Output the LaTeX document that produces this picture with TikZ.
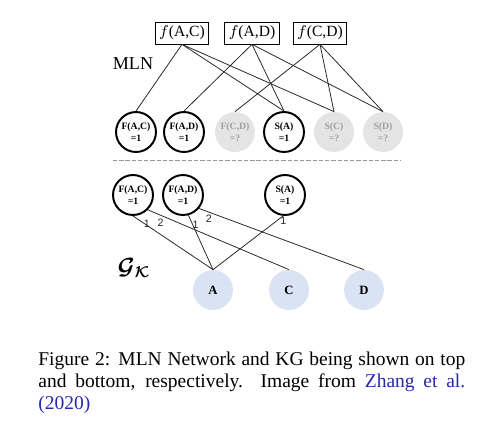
\documentclass[tikz,border=0pt]{standalone}
\usepackage{amsmath}
\usepackage{bm}
\usepackage{fontspec}
\setmainfont{Liberation Serif}
\newfontfamily\digitfont{Liberation Sans}
\usetikzlibrary{positioning}
\tikzset{>=stealth}
\definecolor{kgblue}{RGB}{218,227,243}
\definecolor{unkgray}{RGB}{228,228,228}
\definecolor{unktext}{RGB}{160,160,160}
\definecolor{citeblue}{RGB}{40,40,170}
\tikzset{
  factor/.style={draw,thin,inner sep=2pt,minimum height=10.3pt,font=\fontsize{8}{9}\selectfont},
  atom/.style={draw,circle,line width=1pt,minimum size=20.5pt,inner sep=0pt,align=center,font=\fontsize{5}{6.2}\selectfont\bfseries},
  unknown/.style={circle,fill=unkgray,text=unktext,minimum size=20.5pt,inner sep=0pt,align=center,font=\fontsize{5}{6.2}\selectfont\bfseries},
  entity/.style={circle,fill=kgblue,minimum size=20.5pt,inner sep=0pt,font=\fontsize{6.5}{7}\selectfont\bfseries},
  edgelabel/.style={inner sep=1pt,font=\digitfont\fontsize{5.5}{6}\selectfont}
}

\begin{document}
\begin{tikzpicture}[x=0.513pt,y=-0.513pt]
            \useasboundingbox (0,0) rectangle (479,431);
            % factors
            \node[factor] (fAC) at (182,33) {$f$(A,C)};
            \node[factor] (fAD) at (252,33) {$f$(A,D)};
            \node[factor] (fCD) at (320,33) {$f$(C,D)};
            \node[font=\fontsize{9.3}{10}\selectfont] (mln) at (133,64) {MLN};

            % MLN atoms
            \node[atom] (FAC) at (136,132) {F(A,C)\\=1};
            \node[atom] (FAD) at (184,132) {F(A,D)\\=1};
            \node[unknown] (FCD) at (235,132) {F(C,D)\\=?};
            \node[atom] (SA) at (284,132) {S(A)\\=1};
            \node[unknown] (SC) at (334,132) {S(C)\\=?};
            \node[unknown] (SD) at (383,132) {S(D)\\=?};

            \draw[thin,black!85] (fAC.south)--(FAC.north);
            \draw[thin,black!85] (fAC.south)--(SA.north);
            \draw[thin,black!85] (fAC.south)--(SC.north);
            \draw[thin,black!85] (fAD.south)--(FAD.north);
            \draw[thin,black!85] (fAD.south)--(SA.north);
            \draw[thin,black!85] (fAD.south)--(SD.north);
            \draw[thin,black!85] (fCD.south)--(FCD.north);
            \draw[thin,black!85] (fCD.south)--(SC.north);
            \draw[thin,black!85] (fCD.south)--(SD.north);

            % separator
            \coordinate (sepL) at (113,160);
            \coordinate (sepR) at (400,160);
            \draw[black!40,dash pattern=on 2.2pt off 1pt] (sepL)--(sepR);

            % KG side
            \node[atom] (FAC2) at (133,195) {F(A,C)\\=1};
            \node[atom] (FAD2) at (183,195) {F(A,D)\\=1};
            \node[atom] (SA2) at (285,195) {S(A)\\=1};
            \node[font=\large] (gk) at (134,268) {$\bm{\mathcal{G}_{\mathcal{K}}}$};

            \node[entity] (A) at (213,290) {A};
            \node[entity] (C) at (289,290) {C};
            \node[entity] (D) at (364,290) {D};

            \draw[thin,black!85] (FAC2.-90)--node[edgelabel,pos=0.15,xshift=1pt]{1}(A.north);
            \draw[thin,black!85] (FAC2.-45)--node[edgelabel,pos=0.09,below=0.5pt]{2}(C.north);
            \draw[thin,black!85] (FAD2.-75)--node[edgelabel,pos=0.17,xshift=1.5pt]{1}(A.north);
            \draw[thin,black!85] (FAD2.-40)--node[edgelabel,pos=0.06,below=0.5pt]{2}(D.north);
            \draw[thin,black!85] (SA2.-95)--node[edgelabel,pos=0.1,right=1pt]{1}(A.north);

            % caption
            \node[anchor=north west,inner sep=0pt,text width=219pt,align=justify,
                  font=\fontsize{10}{11.1}\selectfont] (cap) at (38,352)
              {Figure 2: MLN Network and KG being shown on top\linebreak
               and bottom, respectively.\ \ Image from \textcolor{citeblue}{Zhang et al.}\linebreak
               \textcolor{citeblue}{(2020)}};
    \end{tikzpicture}
\end{document}
